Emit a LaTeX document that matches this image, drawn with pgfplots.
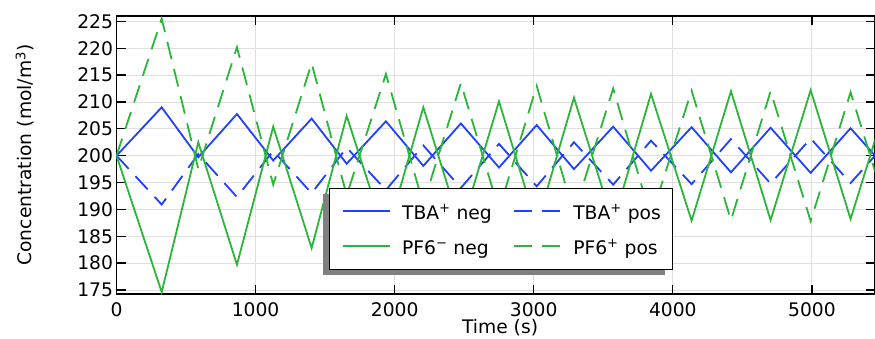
\documentclass[border=0pt]{standalone}
\usepackage{fontspec}
\setmainfont{DejaVu Sans}
\usepackage{pgfplots}
\usepackage{pgfplotstable}
\pgfplotsset{compat=1.18}
\definecolor{cblue}{RGB}{31,64,255}
\definecolor{cgreen}{RGB}{43,182,58}
\pgfplotstableread{
t tbaneg tbapos pfneg pfpos
0 200 200 200 200
325 209.0 190.9 174.6 225.5
588 199.7 200.3 202.5 197.5
866 207.75 192.3 179.7 220.2
1127 199.1 200.9 205.4 194.6
1403 206.9 193.0 182.8 217.2
1655 198.5 201.5 207.4 192.6
1937 206.4 193.6 184.8 215.2
2206 198.1 201.9 209.0 191.0
2476 206.0 194.0 186.5 213.5
2750 197.8 202.2 210.1 189.9
3021 205.7 194.3 187.0 213.0
3289 197.5 202.5 210.8 189.2
3571 205.4 194.6 187.5 212.5
3843 197.2 202.8 211.5 188.5
4135 205.3 194.7 187.9 212.1
4418 196.9 203.1 212.0 188.0
4703 205.2 194.8 188.0 212.0
4991 196.8 203.2 212.2 187.8
5278 205.1 194.9 188.2 211.8
5568 196.7 203.3 212.4 187.6
}\data
\begin{document}
\begin{tikzpicture}
\begin{axis}[
  scale only axis,
  width=758pt, height=278pt,
  xmin=0, xmax=5450, ymin=174.25, ymax=226,
  xtick={0,1000,2000,3000,4000,5000},
  ytick={175,180,185,190,195,200,205,210,215,220,225},
  tick align=inside,
  major tick length=9pt,
  every tick/.style={black, line width=1.3pt},
  axis line style={black, line width=1.5pt},
  grid=major,
  major grid style={black!12, line width=0.9pt},
  /pgf/number format/assume math mode=true,
  /pgf/number format/set thousands separator={},
  tick label style={font=\fontsize{18.7}{22}\selectfont, black},
  xticklabel style={yshift=-6.5pt, inner ysep=2pt},
  label style={font=\fontsize{18.7}{22}\selectfont, black},
  xlabel={Time (s)},
  ylabel={Concentration (mol/m\textsuperscript{3})},
  xlabel style={at={(axis description cs:0.506,0)}, anchor=base, yshift=-39.6pt, inner ysep=1pt},
  ylabel style={at={(axis description cs:-0.1119,0.5)}, anchor=base},
  legend columns=2,
  legend cell align=left,
  legend image code/.code={\draw[#1, line width=1.8pt] (0pt,0pt) -- (47pt,0pt);},
  legend style={
    at={(axis description cs:0.2803,0.3824)}, anchor=north west,
    draw=black, line width=1.3pt, fill=white,
    font=\fontsize{18.7}{22}\selectfont,
    inner xsep=12pt, inner ysep=10pt,
    row sep=8.9pt,
    nodes={inner sep=0pt, text height=20.8pt, text depth=5.3pt},
    /tikz/every odd column/.append style={column sep=11.7pt},
    /tikz/every even column/.append style={column sep=21pt},
  },
]
\addplot[cblue, line width=1.8pt] table[x=t, y=tbaneg] {\data};
\addlegendentry{TBA\textsuperscript{+} neg}
\addplot[cblue, line width=1.8pt, dash pattern=on 18pt off 10pt] table[x=t, y=tbapos] {\data};
\addlegendentry{TBA\textsuperscript{+} pos}
\addplot[cgreen, line width=1.8pt] table[x=t, y=pfneg] {\data};
\addlegendentry{PF6\textsuperscript{−} neg}
\addplot[cgreen, line width=1.8pt, dash pattern=on 18pt off 10pt] table[x=t, y=pfpos] {\data};
\addlegendentry{PF6\textsuperscript{+} pos}
\fill[black!50] (axis description cs:0.2724,0.0683) rectangle (axis description cs:0.7236,0.3608);
\coordinate (SW) at (rel axis cs:0,0);
\end{axis}
\pgfresetboundingbox
\path ([shift={(-116.5pt,-44pt)}]SW) rectangle ++(875pt,338pt);
\end{tikzpicture}
\end{document}
